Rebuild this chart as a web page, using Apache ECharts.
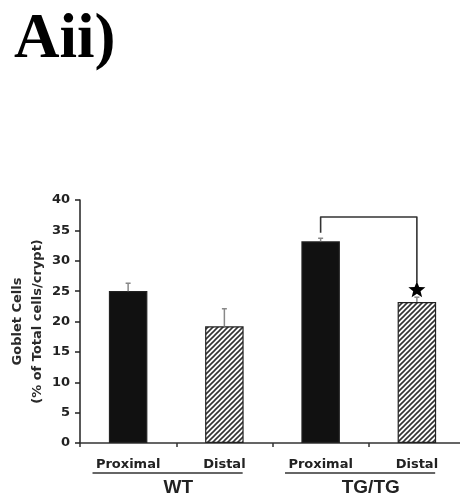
<!DOCTYPE html>
<html>
<head>
    <meta charset="UTF-8">
    <title>Goblet Cells</title>
    <script type="text/javascript" src="https://cdn.jsdelivr.net/npm/echarts@6/dist/echarts.min.js"></script>
    <style>
        html, body { margin: 0; padding: 0; background: #fff; }
    </style>
</head>
<body>
<div id="main" style="width: 460px;height:496px;"></div>
<script type="text/javascript">
    // data
    var categories = ['Proximal', 'Distal', 'Proximal', 'Distal'];
    var groups = ['WT', 'TG/TG'];
    var groupMembers = [[0, 1], [2, 3]];
    var means = [25.0, 19.2, 33.2, 23.2];
    var errUp = [1.3, 2.9, 0.5, 0.8];
    var yTicks = { min: 0, max: 40, step: 5 };
    // significance bracket: from bar, to bar, top, left end, right end
    var bracket = [[2, 3, 37.2, 34.6, 26.4]];
    var starAt = [[3, 25.3]];

    var axisFont = 'DejaVu Sans';
    var ink = '#222';

    // hatch pattern for the distal bars
    var hatch = document.createElement('canvas');
    hatch.width = 5;
    hatch.height = 5;
    var hc = hatch.getContext('2d');
    hc.fillStyle = '#fff';
    hc.fillRect(0, 0, 5, 5);
    hc.strokeStyle = '#333';
    hc.lineWidth = 1.6;
    hc.beginPath();
    hc.moveTo(-1, 6); hc.lineTo(6, -1);
    hc.moveTo(-1, 1); hc.lineTo(1, -1);
    hc.moveTo(4, 6); hc.lineTo(6, 4);
    hc.stroke();

    var barData = means.map(function (m, i) {
        return {
            value: m,
            itemStyle: {
                color: categories[i] === 'Distal' ? { image: hatch, repeat: 'repeat' } : '#111'
            }
        };
    });
    var errData = means.map(function (m, i) { return [i, m, m + errUp[i]]; });

    var starPath = 'path://M12,0 L15.2,8.6 L24,9 L17.2,14.8 L19.4,24 L12,18.8 L4.6,24 L6.8,14.8 L0,9 L8.8,8.6 Z';

    var myChart = echarts.init(document.getElementById('main'));
    var option = {
        animation: false,
        backgroundColor: '#fff',
        title: {
            text: 'Aii)',
            left: 14,
            top: 9,
            padding: 0,
            textStyle: { fontFamily: 'Liberation Serif', fontWeight: 'bold', fontSize: 63, color: '#000' }
        },
        grid: { left: 80, right: -5, top: 200, bottom: 53, containLabel: false, outerBoundsMode: 'none' },
        xAxis: {
            type: 'category',
            data: categories,
            axisLine: { lineStyle: { color: '#333', width: 1.5 } },
            axisTick: { show: true, length: 4, lineStyle: { color: '#333', width: 1.5 } },
            axisLabel: {
                margin: 15,
                fontFamily: axisFont, fontWeight: 'bold', fontSize: 13, color: ink
            }
        },
        yAxis: {
            type: 'value',
            min: yTicks.min,
            max: yTicks.max,
            interval: yTicks.step,
            name: 'Goblet Cells\n(% of Total cells/crypt)',
            nameLocation: 'middle',
            nameRotate: 90,
            nameGap: 32,
            nameMoveOverlap: false,
            nameTextStyle: {
                fontFamily: axisFont, fontWeight: 'bold', fontSize: 13, color: '#2a2a2a', lineHeight: 20
            },
            splitLine: { show: false },
            axisLine: { show: true, lineStyle: { color: '#222', width: 1.5 } },
            axisTick: { show: true, length: 5, lineStyle: { color: '#222', width: 1.5 } },
            axisLabel: {
                margin: 10,
                fontFamily: axisFont, fontWeight: 'bold', fontSize: 13, color: ink
            }
        },
        series: [
            {
                type: 'bar',
                data: barData,
                barWidth: '40%',
                itemStyle: { borderColor: '#222', borderWidth: 1.2 }
            },
            {
                // upper error bars
                type: 'custom',
                data: errData,
                z: 5,
                renderItem: function (params, api) {
                    var p0 = api.coord([api.value(0), api.value(1)]);
                    var p1 = api.coord([api.value(0), api.value(2)]);
                    var st = { stroke: '#888', lineWidth: 1.5 };
                    return {
                        type: 'group',
                        children: [
                            { type: 'line', shape: { x1: p0[0], y1: p0[1], x2: p1[0], y2: p1[1] }, style: st },
                            { type: 'line', shape: { x1: p1[0] - 2.5, y1: p1[1], x2: p1[0] + 2.5, y2: p1[1] }, style: st }
                        ]
                    };
                }
            },
            {
                // significance bracket
                type: 'custom',
                data: bracket,
                z: 5,
                renderItem: function (params, api) {
                    var a = api.coord([api.value(0), api.value(2)]);
                    var aEnd = api.coord([api.value(0), api.value(3)]);
                    var b = api.coord([api.value(1), api.value(2)]);
                    var bEnd = api.coord([api.value(1), api.value(4)]);
                    return {
                        type: 'polyline',
                        shape: { points: [aEnd, a, b, bEnd] },
                        style: { stroke: '#333', lineWidth: 1.6, fill: null, lineJoin: 'round' }
                    };
                }
            },
            {
                type: 'scatter',
                data: starAt,
                symbol: starPath,
                symbolSize: [17, 16],
                itemStyle: { color: '#000', opacity: 1 },
                z: 6
            },
            {
                // group underline and group name
                type: 'custom',
                data: groupMembers,
                z: 5,
                renderItem: function (params, api) {
                    var c0 = api.coord([api.value(0), 0]);
                    var c1 = api.coord([api.value(1), 0]);
                    var bw = api.size([1, 0])[0];
                    var y = c0[1] + 30;
                    return {
                        type: 'group',
                        children: [
                            {
                                type: 'line',
                                shape: { x1: c0[0] - bw * 0.37, y1: y, x2: c1[0] + bw * 0.19, y2: y },
                                style: { stroke: '#333', lineWidth: 1.5 }
                            },
                            {
                                type: 'text',
                                x: (c0[0] + c1[0]) / 2 + 2,
                                y: y + 15,
                                style: {
                                    text: groups[params.dataIndex],
                                    fontFamily: 'Liberation Sans',
                                    fontWeight: 'bold',
                                    fontSize: 19,
                                    fill: ink,
                                    align: 'center',
                                    verticalAlign: 'middle'
                                }
                            }
                        ]
                    };
                }
            }
        ]
    };
    myChart.setOption(option);
</script>
</body>
</html>
